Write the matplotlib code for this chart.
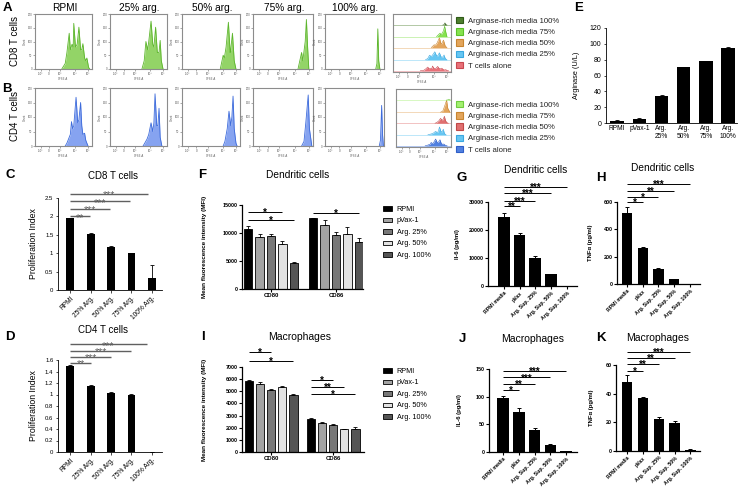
import numpy as np
import matplotlib
matplotlib.use("Agg")
import matplotlib.pyplot as plt
from matplotlib.patches import Patch
import matplotlib.transforms as mtrans

# ---------------- DATA ----------------
hist_titles = ["RPMI", "25% arg.", "50% arg.", "75% arg.", "100% arg."]
cfse_tick_pos = [0.10, 0.245, 0.44, 0.70, 0.935]
cfse_tick_labels = ["-10³", "0", "10³", "10⁴", "10⁵"]

# CD8 CFSE histograms (x: CFSE scale fraction, y: relative count)
cd8_cfse = [
    [0.47, 0.53, 0.56, 0.60, 0.62, 0.65, 0.67, 0.68, 0.71, 0.74, 0.77, 0.80, 0.82, 0.84, 0.87, 0.89, 0.91, 0.94, 0.96],
    [0.56, 0.60, 0.63, 0.66, 0.68, 0.72, 0.75, 0.77, 0.80, 0.83, 0.86, 0.88, 0.90, 0.93],
    [0.66, 0.69, 0.71, 0.73, 0.76, 0.80, 0.83, 0.84, 0.87, 0.90, 0.93],
    [0.75, 0.78, 0.81, 0.83, 0.87, 0.89, 0.91, 0.93],
    [0.86, 0.88, 0.895, 0.91, 0.93],
]
cd8_count = [
    [0, 0.10, 0.30, 0.65, 0.35, 0.45, 0.40, 0.83, 0.40, 0.45, 0.76, 0.35, 0.35, 0.46, 0.20, 0.15, 0.20, 0.03, 0],
    [0, 0.15, 0.50, 0.35, 0.50, 0.87, 0.45, 0.40, 0.76, 0.30, 0.30, 0.52, 0.15, 0],
    [0, 0.15, 0.25, 0.20, 0.40, 0.85, 0.30, 0.35, 0.65, 0.15, 0],
    [0, 0.15, 0.30, 0.15, 0.50, 0.90, 0.40, 0],
    [0, 0.10, 0.73, 0.15, 0],
]
cd4_cfse = [
    [0.53, 0.56, 0.60, 0.62, 0.64, 0.66, 0.68, 0.72, 0.75, 0.77, 0.80, 0.82, 0.84, 0.87, 0.89, 0.93],
    [0.58, 0.61, 0.65, 0.68, 0.72, 0.75, 0.77, 0.79, 0.82, 0.84, 0.86, 0.88, 0.91],
    [0.71, 0.74, 0.78, 0.81, 0.84, 0.86, 0.88, 0.90, 0.93, 0.95],
    [0.81, 0.85, 0.88, 0.92, 0.94, 0.98],
    [0.92, 0.94, 0.96, 0.975, 0.99],
]
cd4_count = [
    [0, 0.05, 0.15, 0.20, 0.42, 0.30, 0.35, 0.84, 0.40, 0.45, 0.75, 0.35, 0.20, 0.22, 0.10, 0],
    [0, 0.05, 0.12, 0.20, 0.40, 0.25, 0.40, 0.90, 0.35, 0.35, 0.65, 0.15, 0],
    [0, 0.08, 0.30, 0.60, 0.35, 0.50, 0.86, 0.30, 0.05, 0],
    [0, 0.08, 0.40, 0.88, 0.30, 0],
    [0, 0.10, 0.70, 0.20, 0],
]
overlay_a_labels = ["Arginase-rich media 100%", "Arginase-rich media 75%", "Arginase-rich media 50%",
                    "Arginase-rich media 25%", "T cells alone"]
overlay_b_labels = ["Arginase-rich media 100%", "Arginase-rich media 75%", "Arginase-rich media 50%",
                    "Arginase-rich media 25%", "T cells alone"]
overlay_a_events = [0.10, 0.16, 0.20, 0.20, 0.05]   # relative event scale per lane (alone..100%)
overlay_b_events = [0.14, 0.15, 0.14, 0.235, 0.02]

# Proliferation index
prolif_cats = ["RPMI", "25% Arg.", "50% Arg.", "75% Arg.", "100% Arg."]
cd8_prolif = [1.95, 1.52, 1.17, 1.00, 0.33]
cd8_prolif_err = [0.02, 0.03, 0.02, 0.01, 0.35]
cd8_sig = [(0, 1, "**"), (0, 2, "***"), (0, 3, "***"), (0, 4, "***")]
cd4_prolif = [1.50, 1.15, 1.03, 1.00, 0.0]
cd4_prolif_err = [0.02, 0.02, 0.02, 0.01, 0.0]
cd4_sig = [(0, 1, "**"), (0, 2, "***"), (0, 3, "***"), (0, 4, "***")]

# Arginase activity
arg_cats = ["RPMI", "pVax-1", "Arg.\n25%", "Arg.\n50%", "Arg.\n75%", "Arg.\n100%"]
arg_vals = [3.0, 5.5, 34.0, 70.5, 78.0, 95.0]
arg_err = [0.5, 0.6, 1.2, 0.6, 0.6, 0.6]

# MFI
mfi_groups = ["CD80", "CD86"]
mfi_series = ["RPMI", "pVax-1", "Arg. 25%", "Arg. 50%", "Arg. 100%"]
dc_mfi = [[10700, 12600], [9350, 11500], [9550, 9650], [8000, 9800], [4600, 8350]]
dc_mfi_err = [[550, 100], [450, 850], [200, 450], [500, 1300], [300, 750]]
dc_sig = [(0, 0, 3, "*"), (0, 0, 4, "*"), (1, 0, 4, "*")]
mac_mfi = [[5850, 2740], [5620, 2400], [5080, 2200], [5330, 1870], [4720, 1920]]
mac_mfi_err = [[100, 80], [150, 60], [100, 100], [70, 60], [60, 150]]
mac_sig = [(0, 0, 2, "*"), (0, 0, 4, "*"), (1, 0, 2, "*"), (1, 0, 3, "**"), (1, 0, 4, "*")]

# Cytokines
cyto_cats = ["RPMI media", "pVax", "Arg. Sup. 25%", "Arg. Sup. 50%", "Arg. Sup. 100%"]
dc_il6 = [24800, 18200, 10050, 4150, 0]
dc_il6_err = [1300, 800, 700, 200, 0]
dc_il6_sig = [(0, 1, "**"), (0, 2, "***"), (0, 3, "***"), (0, 4, "***")]
dc_tnf = [522, 260, 113, 36, 2]
dc_tnf_err = [40, 12, 3, 3, 0]
dc_tnf_sig = [(0, 1, "*"), (0, 2, "*"), (0, 3, "**"), (0, 4, "***")]
mac_il6 = [98, 72, 39.5, 13.5, 1]
mac_il6_err = [4, 7, 3, 0.8, 0.5]
mac_il6_sig = [(0, 1, "*"), (0, 2, "**"), (0, 3, "***"), (0, 4, "***")]
mac_tnf = [48.3, 36.7, 22.0, 19.6, 0.8]
mac_tnf_err = [5, 1.3, 2, 1.2, 0.3]
mac_tnf_sig = [(0, 1, "*"), (0, 2, "**"), (0, 3, "**"), (0, 4, "***")]

# ---------------- FIGURE ----------------
W, H = 747, 495
plt.rcParams["font.family"] = ["Liberation Sans", "DejaVu Sans"]
fig = plt.figure(figsize=(W / 100, H / 100), dpi=100)


def ax_px(x0, y0, x1, y1):
    return fig.add_axes([x0 / W, 1 - y1 / H, (x1 - x0) / W, (y1 - y0) / H])


def txt(x, y, s, **kw):
    kw.setdefault("ha", "center")
    kw.setdefault("va", "center")
    fig.text(x / W, 1 - y / H, s, **kw)


def style_hist(ax):
    ax.set_xlim(0, 1)
    ax.set_ylim(0, 1)
    for sp in ax.spines.values():
        sp.set_color("#8c8c8c")
        sp.set_linewidth(0.8)
    ax.set_xticks(cfse_tick_pos)
    ax.set_xticklabels(cfse_tick_labels, fontsize=2.2, color="#555")
    ax.set_yticks([0, 0.25, 0.5, 0.75, 1.0])
    ax.set_yticklabels(["0", "50", "100", "150", "200"], fontsize=2, color="#555")
    ax.tick_params(length=1.2, width=0.4, pad=0.8, color="#666")
    ax.set_xlabel("CFSE-A", fontsize=2, labelpad=1, color="#555")
    ax.set_ylabel("Count", fontsize=2, labelpad=0.5, color="#555")


hist_cols = [(35, 92), (110, 167), (182, 240), (253, 313), (325, 384)]
for i, (x0, x1) in enumerate(hist_cols):
    a = ax_px(x0, 14, x1, 69)
    a.fill_between(cd8_cfse[i], cd8_count[i], color="#93d467", lw=0)
    a.plot(cd8_cfse[i], cd8_count[i], color="#5cb52c", lw=0.6)
    style_hist(a)
    b = ax_px(x0, 88, x1, 146)
    b.fill_between(cd4_cfse[i], cd4_count[i], color="#86a3f0", lw=0)
    b.plot(cd4_cfse[i], cd4_count[i], color="#3d6bdb", lw=0.6)
    style_hist(b)
    txt((x0 + x1) / 2 + 1, 8, hist_titles[i], fontsize=7.3)

# overlays
ov_a_colors = ["#e87078", "#66c6f2", "#e3a55c", "#86e24f", "#4d7f2e"]
ov_a_edges = ["#c84850", "#3aa8e0", "#c88530", "#5cc02a", "#2f5a18"]
ov_b_colors = ["#5080e0", "#66c6f2", "#e07070", "#e3a55c", "#a3f070"]
ov_b_edges = ["#2f5ec8", "#3aa8e0", "#c04848", "#c88530", "#70cc40"]
ov_a_base = [0.02, 0.21, 0.42, 0.61, 0.81]
ov_b_base = [0.02, 0.21, 0.41, 0.60, 0.81]

oa = ax_px(393, 14, 451, 72)
ob = ax_px(396, 89, 451, 147)
for ax, data_x, data_y, cols, edges, base, scale in [
    (oa, cd8_cfse, cd8_count, ov_a_colors, ov_a_edges, ov_a_base, overlay_a_events),
    (ob, cd4_cfse, cd4_count, ov_b_colors, ov_b_edges, ov_b_base, overlay_b_events),
]:
    for k in range(5):
        y = np.array(data_y[k]) * scale[k] + base[k]
        ax.axhline(base[k], color=cols[k], lw=0.5, alpha=0.6)
        ax.fill_between(data_x[k], base[k], y, color=cols[k], lw=0)
        ax.plot(data_x[k], y, color=edges[k], lw=0.4)
    style_hist(ax)
    ax.set_yticks([])
    ax.set_ylabel("")

leg_a = [Patch(facecolor=c, edgecolor=e, lw=0.8) for c, e in zip(ov_a_colors[::-1], ov_a_edges[::-1])]
leg_b = [Patch(facecolor=c, edgecolor=e, lw=0.8) for c, e in zip(ov_b_colors[::-1], ov_b_edges[::-1])]
for handles, labels, top in [(leg_a, overlay_a_labels, 17), (leg_b, overlay_b_labels, 101)]:
    fig.legend(handles, labels, loc="upper left", bbox_to_anchor=(456 / W, 1 - top / H),
               frameon=False, fontsize=5.6, handlelength=0.9, handleheight=0.9,
               handletextpad=0.7, labelspacing=0.42, borderaxespad=0, borderpad=0,
               labelcolor="#222")

# row labels & panel letters
txt(15, 41, "CD8 T cells", fontsize=7, rotation=90)
txt(15, 116, "CD4 T cells", fontsize=7, rotation=90)
for letter, x, y in [("A", 7, 8), ("B", 7, 89), ("C", 10, 175), ("D", 10, 337), ("E", 579, 8),
                     ("F", 202, 175), ("G", 462, 178), ("H", 601, 178), ("I", 203, 337),
                     ("J", 462, 339), ("K", 601, 338)]:
    txt(x, y, letter, fontsize=9.5, fontweight="bold")


def sig_lines(ax, xs_pairs, ys, color, lw, fs, weight="normal"):
    tr = mtrans.blended_transform_factory(ax.transData, ax.transAxes)
    tr_t = tr + mtrans.ScaledTranslation(0, -fs * 0.42 / 72, fig.dpi_scale_trans)
    for (x0, x1, s), y in zip(xs_pairs, ys):
        ax.plot([x0, x1], [y, y], color=color, lw=lw, transform=tr, clip_on=False, solid_capstyle="butt")
        ax.text((x0 + x1) / 2, y, s, transform=tr_t, ha="center", va="baseline",
                fontsize=fs, color=color, fontweight=weight, clip_on=False)


# ----- Excel style panels C, D -----
def excel_bar(ax, vals, errs, cats, ylim, yticks, ylabels, rot=45, fs=4.8, width=0.38):
    x = np.arange(len(vals))
    ax.bar(x, vals, width=width, color="black")
    ax.errorbar(x, vals, yerr=[np.zeros(len(errs)), errs], fmt="none", ecolor="black",
                elinewidth=0.6, capsize=1.2, capthick=0.6)
    ax.set_ylim(*ylim)
    ax.set_yticks(yticks)
    ax.set_yticklabels(ylabels, fontsize=4.3)
    ax.set_xticks(x)
    if rot:
        ax.set_xticklabels(cats, fontsize=fs, rotation=rot, ha="right", rotation_mode="anchor")
    else:
        ax.set_xticklabels(cats, fontsize=fs)
    for s in ["top", "right"]:
        ax.spines[s].set_visible(False)
    for s in ["left", "bottom"]:
        ax.spines[s].set_linewidth(0.6)
    ax.tick_params(length=1.8, width=0.5, pad=1.5)
    return x


axC = ax_px(58, 198, 162, 290)
excel_bar(axC, cd8_prolif, cd8_prolif_err, prolif_cats, (0, 2.5),
          [0, 0.5, 1, 1.5, 2, 2.5], ["0", "0.5", "1", "1.5", "2", "2.5"])
axC.set_xlim(-0.6, 4.5)
axC.set_ylabel("Proliferation Index", fontsize=6.3)
axC.yaxis.set_label_coords(-0.19, 0.5)
sig_lines(axC, [(a, b - 0.05 if b < 4 else 3.8, s) for a, b, s in cd8_sig], [0.80, 0.885, 0.965, 1.045],
          "#606060", 1.0, 7.5)
txt(113, 176, "CD8 T cells", fontsize=7)

axD = ax_px(58, 360, 162, 452)
excel_bar(axD, cd4_prolif, cd4_prolif_err, prolif_cats, (0, 1.6),
          [0, 0.2, 0.4, 0.6, 0.8, 1.0, 1.2, 1.4, 1.6],
          ["0", "0.2", "0.4", "0.6", "0.8", "1", "1.2", "1.4", "1.6"])
axD.set_xlim(-0.6, 4.5)
axD.set_ylabel("Proliferation Index", fontsize=6.3)
axD.yaxis.set_label_coords(-0.19, 0.5)
sig_lines(axD, [(a, b if b < 4 else 3.75, s) for a, b, s in cd4_sig], [0.97, 1.035, 1.10, 1.17],
          "#606060", 1.0, 7.5)
txt(103, 330, "CD4 T cells", fontsize=7)

# ----- Panel E -----
axE = ax_px(606, 28, 737, 123)
excel_bar(axE, arg_vals, arg_err, arg_cats, (0, 120), list(range(0, 121, 20)),
          [str(v) for v in range(0, 121, 20)], rot=0, fs=4.8, width=0.6)
axE.set_xlim(-0.5, 5.4)
axE.tick_params(axis="y", labelsize=5)
axE.tick_params(axis="x", length=0)
axE.set_ylabel("Arginase (U/L)", fontsize=5.3)
axE.yaxis.set_label_coords(-0.2, 0.5)


# ----- GraphPad style -----
def prism_axes(ax, ylim, yticks, ylabel, lab_x, lab_fs=4.2):
    ax.set_ylim(*ylim)
    ax.set_yticks(yticks)
    ax.set_yticklabels([str(v) for v in yticks], fontsize=3.9, fontweight="bold")
    for s in ["top", "right"]:
        ax.spines[s].set_visible(False)
    for s in ["left", "bottom"]:
        ax.spines[s].set_linewidth(0.9)
    ax.tick_params(length=2.2, width=0.8, pad=1)
    ax.set_ylabel(ylabel, fontsize=lab_fs, fontweight="bold")
    ax.yaxis.set_label_coords(lab_x, 0.5)


def prism_bar(ax, vals, errs, cats, width, xlim):
    x = np.arange(len(vals))
    ax.bar(x, vals, width=width, color="black")
    ax.errorbar(x, vals, yerr=[np.zeros(len(errs)), errs], fmt="none", ecolor="black",
                elinewidth=0.7, capsize=1.6, capthick=0.7)
    ax.set_xticks(x)
    ax.set_xticklabels(cats, fontsize=3.7, fontweight="bold", rotation=45, ha="right",
                       rotation_mode="anchor")
    ax.set_xlim(*xlim)


mfi_colors = ["#000000", "#a3a3a3", "#787878", "#e2e2e2", "#555555"]


def group_bar(ax, vals, errs, sp, width, xlim, sig, sig_ys):
    pos = {}
    for k in range(len(mfi_series)):
        xs = np.arange(len(mfi_groups)) + (k - 2) * sp
        for g in range(len(mfi_groups)):
            pos[(g, k)] = xs[g]
        ax.bar(xs, vals[k], width=width, color=mfi_colors[k], edgecolor="black", lw=0.6,
               label=mfi_series[k])
        ax.errorbar(xs, vals[k], yerr=[np.zeros(len(errs[k])), errs[k]], fmt="none",
                    ecolor="black", elinewidth=0.6, capsize=1.4, capthick=0.6)
    ax.set_xticks(np.arange(len(mfi_groups)))
    ax.set_xticklabels(mfi_groups, fontsize=4.3, fontweight="bold")
    ax.set_xlim(*xlim)
    sig_lines(ax, [(pos[(g, a)], pos[(g, b)], s) for g, a, b, s in sig], sig_ys,
              "black", 0.7, 7, weight="bold")


axF = ax_px(242, 205, 363, 289)
prism_axes(axF, (0, 15000), [0, 5000, 10000, 15000], "Mean fluorescence intensity (MFI)", -0.29, 4.6)
group_bar(axF, dc_mfi, dc_mfi_err, 0.175, 0.13, (-0.446, 1.415), dc_sig, [0.92, 0.82, 0.905])
txt(298, 175, "Dendritic cells", fontsize=7.3)

axI = ax_px(242, 367, 364, 452)
prism_axes(axI, (0, 7000), list(range(0, 7001, 1000)), "Mean fluorescence intensity (MFI)", -0.29, 4.6)
group_bar(axI, mac_mfi, mac_mfi_err, 0.18, 0.135, (-0.47, 1.5), mac_sig,
          [1.18, 1.07, 0.85, 0.765, 0.68])
txt(300, 337, "Macrophages", fontsize=7.5)

for ax, top in [(axF, 205), (axI, 367)]:
    hs, ls = ax.get_legend_handles_labels()
    fig.legend(hs, ls, loc="upper left", bbox_to_anchor=(383 / W, 1 - (top + 1) / H),
               frameon=False, fontsize=5.2, handlelength=1.3, handleheight=0.6,
               handletextpad=0.6, labelspacing=0.62, borderaxespad=0, borderpad=0)

# G, H, J, K
axG = ax_px(488, 202, 577, 286)
prism_axes(axG, (0, 30000), [0, 10000, 20000, 30000], "Il-6 (pg/ml)", -0.31)
prism_bar(axG, dc_il6, dc_il6_err, cyto_cats, 0.74, (-1.0, 4.65))
sig_lines(axG, [(a, b, s) for a, b, s in dc_il6_sig], [0.95, 1.015, 1.11, 1.18], "black", 0.7, 7,
          weight="bold")
txt(536, 170, "Dendritic cells", fontsize=7.3)

axH = ax_px(617, 202, 700, 284)
prism_axes(axH, (0, 600), [0, 200, 400, 600], "TNFα (pg/ml)", -0.29)
prism_bar(axH, dc_tnf, dc_tnf_err, cyto_cats, 0.66, (-0.63, 4.63))
sig_lines(axH, [(a, b, s) for a, b, s in dc_tnf_sig], [1.0, 1.065, 1.14, 1.225], "black", 0.7, 7,
          weight="bold")
txt(663, 168, "Dendritic cells", fontsize=7.3)

axJ = ax_px(489, 369, 577, 452)
prism_axes(axJ, (0, 150), [0, 50, 100, 150], "IL-6 (pg/ml)", -0.31)
prism_bar(axJ, mac_il6, mac_il6_err, cyto_cats, 0.72, (-0.9, 4.7))
sig_lines(axJ, [(a, b, s) for a, b, s in mac_il6_sig], [0.75, 0.82, 0.90, 0.975], "black", 0.7, 7,
          weight="bold")
txt(533, 339, "Macrophages", fontsize=7.5)

axK = ax_px(616, 365, 700, 451)
prism_axes(axK, (0, 60), [0, 20, 40, 60], "TNFα (pg/ml)", -0.26)
prism_bar(axK, mac_tnf, mac_tnf_err, cyto_cats, 0.66, (-0.7, 4.6))
sig_lines(axK, [(a, b, s) for a, b, s in mac_tnf_sig], [0.93, 1.01, 1.08, 1.15], "black", 0.7, 7,
          weight="bold")
txt(658, 338, "Macrophages", fontsize=7.5)

fig.savefig("out.png", dpi=100)
